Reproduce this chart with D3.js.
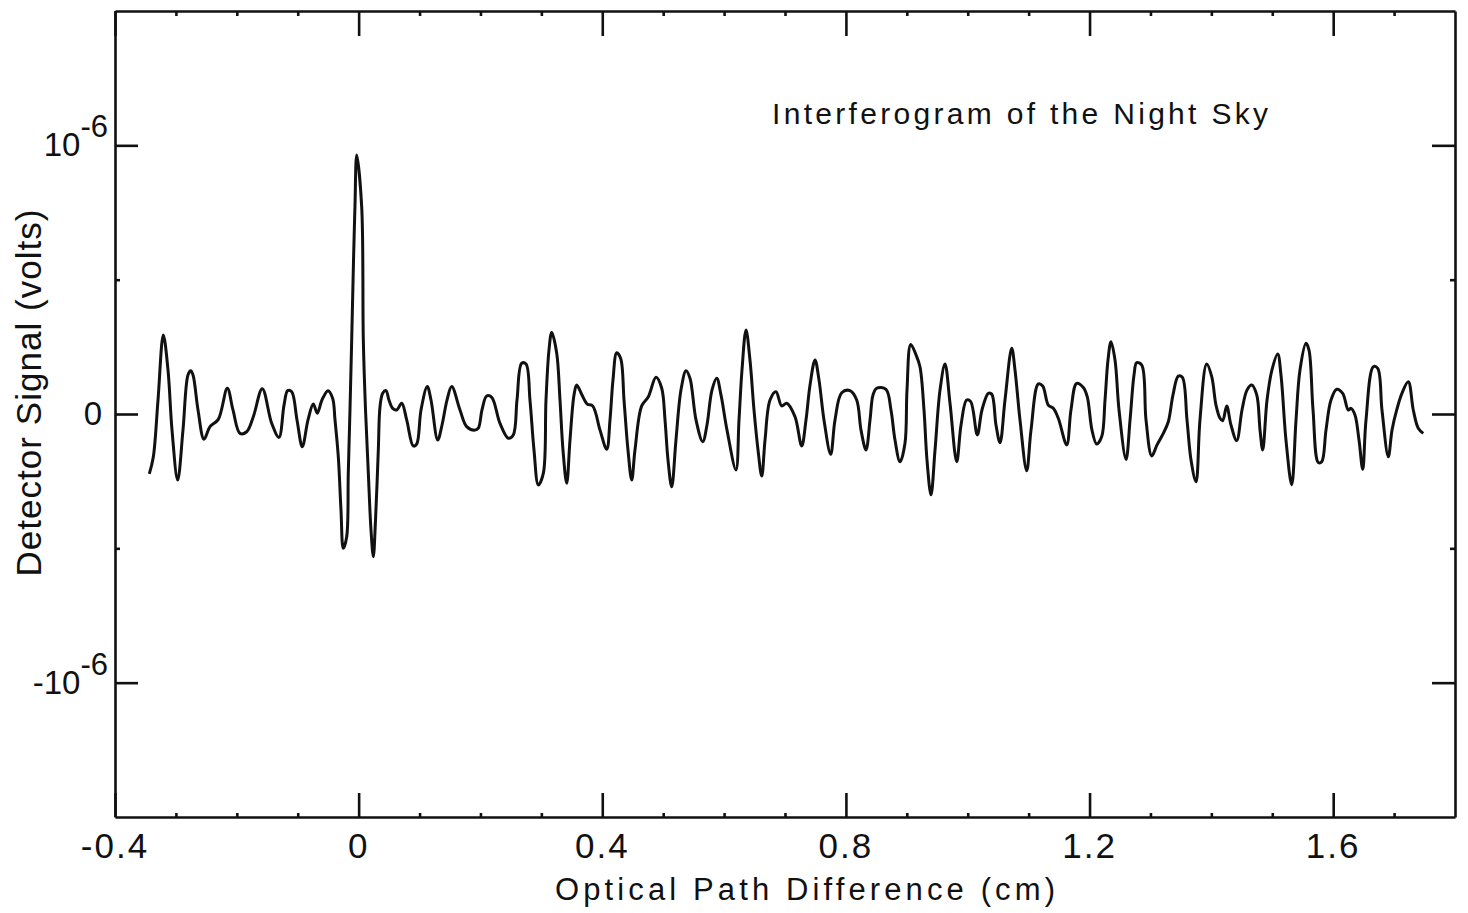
<!DOCTYPE html>
<html>
<head>
<meta charset="utf-8">
<script src="https://cdn.jsdelivr.net/npm/d3@7"></script>
<style>
  body { margin: 0; background: #fff; }
  svg { display: block; }
  text { font-family: "Liberation Sans", Arial, sans-serif; fill: #111; }
</style>
</head>
<body>
<svg id="chart" width="1468" height="913"></svg>
<script>
// Optical path difference (cm)
const opd = [
-0.3437,-0.3371,-0.3294,-0.3207,-0.3130,-0.3064,-0.2971,-0.2884,-0.2802,-0.2757,
-0.2719,-0.2637,-0.2539,-0.2440,-0.2304,-0.2156,-0.2063,-0.1948,-0.1838,-0.1729,
-0.1582,-0.1427,-0.1308,-0.1225,-0.1165,-0.1099,-0.1012,-0.0925,-0.0831,-0.0744,
-0.0679,-0.0602,-0.0503,-0.0426,-0.0388,-0.0334,-0.0290,-0.0252,-0.0196,-0.0170,
-0.0142,-0.0114,-0.0084,-0.0060,-0.0032,0.0050,0.0077,0.0113,0.0159,
0.0203,0.0241,0.0277,0.0323,0.0351,0.0395,0.0449,0.0498,0.0559,0.0625,
0.0707,0.0789,0.0897,0.0953,0.1024,0.1127,0.1188,0.1298,0.1369,0.1451,
0.1528,0.1664,0.1774,0.1910,0.1965,0.2025,0.2102,0.2185,0.2321,0.2457,
0.2539,0.2600,0.2677,0.2748,0.2813,0.2879,0.2950,0.3032,0.3076,0.3125,
0.3170,0.3252,0.3306,0.3355,0.3416,0.3470,0.3536,0.3580,0.3667,0.3754,
0.3843,0.3963,0.4073,0.4127,0.4176,0.4237,0.4302,0.4357,0.4422,0.4483,
0.4537,0.4647,0.4756,0.4882,0.4976,0.5030,0.5079,0.5140,0.5210,0.5292,
0.5375,0.5440,0.5539,0.5649,0.5719,0.5801,0.5879,0.5949,0.6048,0.6195,
0.6245,0.6294,0.6360,0.6425,0.6491,0.6557,0.6618,0.6672,0.6754,0.6852,
0.6946,0.7028,0.7164,0.7274,0.7345,0.7411,0.7493,0.7558,0.7640,0.7750,
0.7821,0.7931,0.8067,0.8177,0.8248,0.8330,0.8396,0.8445,0.8505,0.8658,
0.8740,0.8806,0.8888,0.8970,0.9003,0.9064,0.9151,0.9216,0.9282,0.9331,
0.9397,0.9463,0.9545,0.9627,0.9709,0.9819,0.9890,0.9983,1.0049,1.0157,
1.0234,1.0338,1.0394,1.0464,1.0530,1.0612,1.0722,1.0776,1.0858,1.0968,
1.1039,1.1159,1.1231,1.1323,1.1405,1.1487,1.1625,1.1695,1.1789,1.1897,
1.1963,1.2040,1.2117,1.2200,1.2254,1.2303,1.2352,1.2418,1.2484,1.2599,
1.2665,1.2730,1.2774,1.2857,1.2927,1.3021,1.3108,1.3211,1.3293,1.3370,
1.3457,1.3523,1.3600,1.3666,1.3748,1.3813,1.3923,1.4006,1.4076,1.4142,
1.4186,1.4252,1.4322,1.4416,1.4503,1.4585,1.4662,1.4745,1.4799,1.4843,
1.4914,1.4995,1.5089,1.5143,1.5225,1.5319,1.5390,1.5455,1.5554,1.5603,
1.5669,1.5756,1.5812,1.5882,1.5964,1.6058,1.6156,1.6248,1.6293,1.6358,
1.6424,1.6485,1.6539,1.6659,1.6731,1.6801,1.6905,1.6966,1.7043,1.7130,
1.7233,1.7315,1.7397,1.7479
];

// Detector signal, in units of 1e-6 volts
const signal = [
-0.223,-0.160,0.052,0.294,0.164,-0.060,-0.246,-0.060,0.145,0.161,
0.145,0.015,-0.094,-0.047,-0.020,0.096,0.015,-0.072,-0.066,-0.010,
0.094,-0.035,-0.087,0.033,0.087,0.083,-0.022,-0.122,-0.022,0.037,
0.003,0.052,0.087,0.058,-0.022,-0.159,-0.357,-0.500,-0.457,-0.220,
0.015,0.275,0.573,0.774,0.964,0.772,0.275,0.015,-0.220,
-0.432,-0.531,-0.395,-0.134,0.027,0.077,0.087,0.052,0.021,0.015,
0.040,-0.022,-0.119,-0.112,0.015,0.102,0.052,-0.097,-0.041,0.052,
0.102,0.015,-0.047,-0.060,-0.053,0.015,0.067,0.062,-0.035,-0.090,
-0.078,0.052,0.189,0.186,0.052,-0.134,-0.264,-0.221,0.052,0.238,
0.303,0.226,0.052,-0.134,-0.258,-0.097,0.071,0.108,0.071,0.037,
0.030,-0.060,-0.131,-0.022,0.127,0.228,0.207,0.052,-0.134,-0.246,
-0.134,0.030,0.064,0.137,0.096,-0.022,-0.171,-0.271,-0.097,0.089,
0.161,0.133,-0.022,-0.103,-0.041,0.089,0.133,0.071,-0.060,-0.208,
-0.022,0.164,0.313,0.201,0.015,-0.134,-0.231,-0.097,0.052,0.083,
0.030,0.040,-0.010,-0.119,-0.022,0.108,0.201,0.127,-0.022,-0.150,
-0.022,0.079,0.087,0.052,-0.060,-0.134,-0.022,0.071,0.096,0.092,
0.015,-0.097,-0.178,-0.109,0.089,0.259,0.220,0.176,0.015,-0.171,
-0.301,-0.134,0.089,0.186,0.040,-0.178,-0.041,0.052,0.046,-0.078,
0.015,0.077,0.074,-0.041,-0.107,0.052,0.245,0.164,-0.022,-0.211,
-0.060,0.112,0.104,0.033,0.021,-0.016,-0.115,0.015,0.114,0.099,
0.064,-0.060,-0.112,-0.084,0.052,0.201,0.269,0.201,0.015,-0.169,
-0.022,0.145,0.191,0.182,-0.022,-0.156,-0.115,-0.072,-0.029,0.071,
0.141,0.137,-0.022,-0.171,-0.252,-0.022,0.186,0.139,0.033,-0.016,
-0.025,0.030,-0.041,-0.099,0.015,0.089,0.108,0.071,-0.060,-0.134,
0.052,0.164,0.223,0.145,-0.097,-0.264,-0.022,0.164,0.263,0.238,
0.015,-0.181,-0.178,-0.060,0.052,0.092,0.077,0.015,0.021,-0.004,
-0.097,-0.206,-0.022,0.176,0.170,0.015,-0.159,-0.060,0.015,0.078,
0.120,0.015,-0.053,-0.072
];

// Axis ticks and labels
const xMajorTicks = [-0.4, 0, 0.4, 0.8, 1.2, 1.6];
const xTickLabels = ["-0.4", "0", "0.4", "0.8", "1.2", "1.6"];
const xMinorTicks = [-0.3,-0.2,-0.1,0.1,0.2,0.3,0.5,0.6,0.7,0.9,1.0,1.1,1.3,1.4,1.5,1.7];
const yMajorTicks = [-1, 0, 1];
const yTickBase = ["-10", "0", "10"];
const yTickExp = ["-6", "", "-6"];
const yMinorTicks = [-0.5, 0.5];

const titleText = "Interferogram of the Night Sky";
const xTitle = "Optical  Path  Difference  (cm)";
const yTitle = "Detector  Signal  (volts)";

(function () {
const svg = d3.select("#chart");
const pLeft = 115, pRight = 1455, pTop = 11, pBottom = 817;

const x = d3.scaleLinear().domain([-0.4, 1.8]).range([pLeft, pRight]);
const y = d3.scaleLinear().domain([-1.5, 1.5]).range([pBottom, pTop]);

const stroke = "#111";
const sw = 2.6;

function styleAxis(g) {
  g.selectAll("path").attr("stroke", stroke).attr("stroke-width", sw);
  g.selectAll("line").attr("stroke", stroke).attr("stroke-width", sw);
  g.selectAll("text").remove();
}
function minorAxis(g) { styleAxis(g); g.select("path").remove(); }

// bottom
svg.append("g").attr("transform", `translate(0,${pBottom})`)
  .call(d3.axisBottom(x).tickValues(xMajorTicks).tickSizeInner(-24).tickSizeOuter(0).tickFormat(""))
  .call(styleAxis);
svg.append("g").attr("transform", `translate(0,${pBottom})`)
  .call(d3.axisBottom(x).tickValues(xMinorTicks).tickSizeInner(-4).tickSizeOuter(0).tickFormat(""))
  .call(minorAxis);
// top
svg.append("g").attr("transform", `translate(0,${pTop})`)
  .call(d3.axisTop(x).tickValues(xMajorTicks).tickSizeInner(-25).tickSizeOuter(0).tickFormat(""))
  .call(styleAxis);
svg.append("g").attr("transform", `translate(0,${pTop})`)
  .call(d3.axisTop(x).tickValues(xMinorTicks).tickSizeInner(-5).tickSizeOuter(0).tickFormat(""))
  .call(minorAxis);
// left
svg.append("g").attr("transform", `translate(${pLeft},0)`)
  .call(d3.axisLeft(y).tickValues(yMajorTicks).tickSizeInner(-23).tickSizeOuter(0).tickFormat(""))
  .call(styleAxis);
svg.append("g").attr("transform", `translate(${pLeft},0)`)
  .call(d3.axisLeft(y).tickValues(yMinorTicks).tickSizeInner(-5).tickSizeOuter(0).tickFormat(""))
  .call(minorAxis);
// right
svg.append("g").attr("transform", `translate(${pRight},0)`)
  .call(d3.axisRight(y).tickValues(yMajorTicks).tickSizeInner(-23).tickSizeOuter(0).tickFormat(""))
  .call(styleAxis);
svg.append("g").attr("transform", `translate(${pRight},0)`)
  .call(d3.axisRight(y).tickValues(yMinorTicks).tickSizeInner(-5).tickSizeOuter(0).tickFormat(""))
  .call(minorAxis);

// X tick labels
svg.append("g").selectAll("text").data(xMajorTicks).join("text")
  .attr("x", d => x(d)).attr("y", 858)
  .attr("text-anchor", "middle")
  .style("font-size", "35px").style("letter-spacing", "2px")
  .text((d, i) => xTickLabels[i]);

// Y tick labels with superscript exponents
const yl = svg.append("g").selectAll("text").data(yMajorTicks).join("text")
  .attr("x", (d, i) => pLeft - (yTickExp[i] ? 7 : 13))
  .attr("y", d => y(d) + 11)
  .attr("text-anchor", "end")
  .style("font-size", "33px");
yl.append("tspan").text((d, i) => yTickBase[i]);
yl.append("tspan").attr("dy", -19).style("font-size", "31px").text((d, i) => yTickExp[i]);

// signal trace
const pts = opd.map((v, i) => [v, signal[i]]);
svg.append("path").datum(pts)
  .attr("fill", "none").attr("stroke", stroke).attr("stroke-width", 3)
  .attr("stroke-linejoin", "round")
  .attr("d", d3.line().x(d => x(d[0])).y(d => y(d[1])).curve(d3.curveCatmullRom.alpha(0.5)));

// titles
svg.append("text").attr("x", 772).attr("y", 124)
  .style("font-size", "30px")
  .attr("textLength", 496).attr("lengthAdjust", "spacing")
  .text(titleText);

svg.append("text").attr("x", 555).attr("y", 900)
  .style("font-size", "31px")
  .attr("textLength", 500).attr("lengthAdjust", "spacing")
  .text(xTitle);

svg.append("text")
  .attr("transform", "translate(41,393) rotate(-90)")
  .attr("text-anchor", "middle")
  .style("font-size", "35px")
  .attr("textLength", 367).attr("lengthAdjust", "spacing")
  .text(yTitle);
})();
</script>
</body>
</html>
